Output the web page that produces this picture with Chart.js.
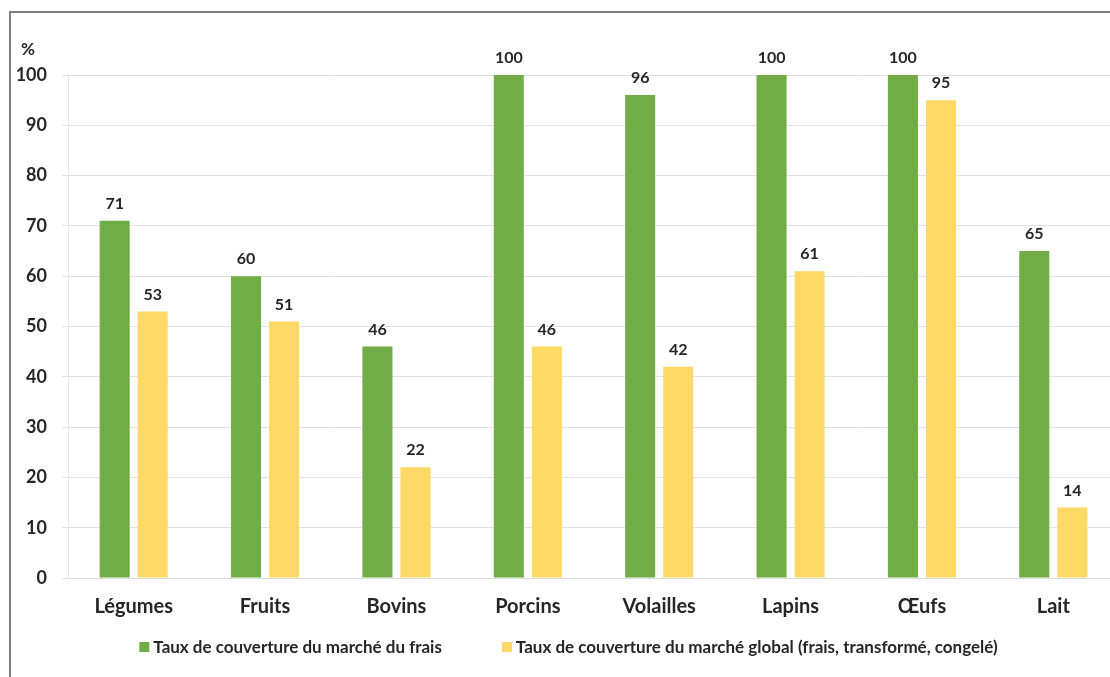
<!DOCTYPE html>
<html>
<head>
<meta charset="utf-8">
<script src="https://cdn.jsdelivr.net/npm/chart.js@4.4.1/dist/chart.umd.min.js"></script>
<style>
  html, body { margin: 0; padding: 0; background: #fff; overflow: hidden; }
  #wrap { position: relative; width: 1110px; height: 677px; overflow: hidden; }
  #cadre { position: absolute; left: 9px; top: 11px; width: 1200px; height: 700px;
           border-left: 2px solid #7f7f7f; border-top: 2px solid #7f7f7f; }
  #zone { position: absolute; left: 0; top: 0; width: 1125px; height: 677px; }
</style>
</head>
<body>
<div id="wrap">
  <div id="cadre"></div>
  <div id="zone"><canvas id="graphique"></canvas></div>
</div>
<script>
const categories = ["Légumes", "Fruits", "Bovins", "Porcins", "Volailles", "Lapins", "Œufs", "Lait"];
const tauxFrais = [71, 60, 46, 100, 96, 100, 100, 65];
const tauxGlobal = [53, 51, 22, 46, 42, 61, 95, 14];
const ticksY = [0, 10, 20, 30, 40, 50, 60, 70, 80, 90, 100];

const police = "Lato, 'Liberation Sans', sans-serif";
const couleurTexte = '#262626';

// valeurs au dessus des barres, "%" au dessus de l'axe et legende en bas
const etiquettes = {
    id: 'etiquettes',
    afterDatasetsDraw(chart) {
        const ctx = chart.ctx;
        ctx.save();
        ctx.fillStyle = couleurTexte;
        ctx.font = "bold 16px " + police;
        ctx.textAlign = 'center';
        ctx.textBaseline = 'middle';
        chart.data.datasets.forEach((ds, i) => {
            chart.getDatasetMeta(i).data.forEach((barre, j) => {
                ctx.fillText(ds.data[j], barre.x, barre.y - 17);
            });
        });

        const axeY = chart.scales.y;
        ctx.font = "bold 17px " + police;
        ctx.fillText('%', 28, axeY.getPixelForValue(100) - 25);

        // legende
        ctx.font = "bold 17px " + police;
        ctx.textAlign = 'left';
        const boite = 10, espace = 4, ecart = 60;
        const largeurs = chart.data.datasets.map(ds => ctx.measureText(ds.label).width);
        const total = largeurs.reduce((a, b) => a + b, 0) + 2 * (boite + espace) + ecart;
        let x = chart.width / 2 + 6 - total / 2;
        const y = axeY.bottom + 69;
        chart.data.datasets.forEach((ds, i) => {
            ctx.fillStyle = ds.backgroundColor;
            ctx.fillRect(x, y - boite / 2, boite, boite);
            x += boite + espace;
            ctx.fillStyle = couleurTexte;
            ctx.fillText(ds.label, x, y + 1);
            x += largeurs[i] + ecart;
        });
        ctx.restore();
    }
};

const graphique = new Chart(document.getElementById("graphique"), {
    type: 'bar',
    data: {
        labels: categories,
        datasets: [{
            label: 'Taux de couverture du marché du frais',
            data: tauxFrais,
            backgroundColor: '#70ad47',
            categoryPercentage: 0.579,
            barPercentage: 0.79
        }, {
            label: 'Taux de couverture du marché global (frais, transformé, congelé)',
            data: tauxGlobal,
            backgroundColor: '#ffd966',
            categoryPercentage: 0.579,
            barPercentage: 0.79
        }]
    },
    options: {
        responsive: true,
        maintainAspectRatio: false,
        animation: false,
        layout: { padding: { top: 75, right: 6, bottom: 0, left: 0 } },
        plugins: {
            legend: { display: false },
            tooltip: { enabled: false }
        },
        scales: {
            x: {
                afterFit(axe) { axe.height = 99; },
                grid: { display: false, drawTicks: false },
                border: { color: '#dcdcdc' },
                ticks: {
                    padding: 17,
                    color: couleurTexte,
                    font: { family: police, size: 20, weight: 'bold' }
                }
            },
            y: {
                min: 0,
                max: 100,
                afterFit(axe) { axe.width = 68; },
                afterBuildTicks(axe) { axe.ticks = ticksY.map(v => ({ value: v })); },
                grid: { color: '#e2e2e2', tickLength: 6 },
                border: { color: '#e6e6e6' },
                ticks: {
                    padding: 15,
                    color: couleurTexte,
                    font: { family: police, size: 18, weight: 'bold' }
                }
            }
        }
    },
    plugins: [etiquettes]
});
</script>
</body>
</html>
